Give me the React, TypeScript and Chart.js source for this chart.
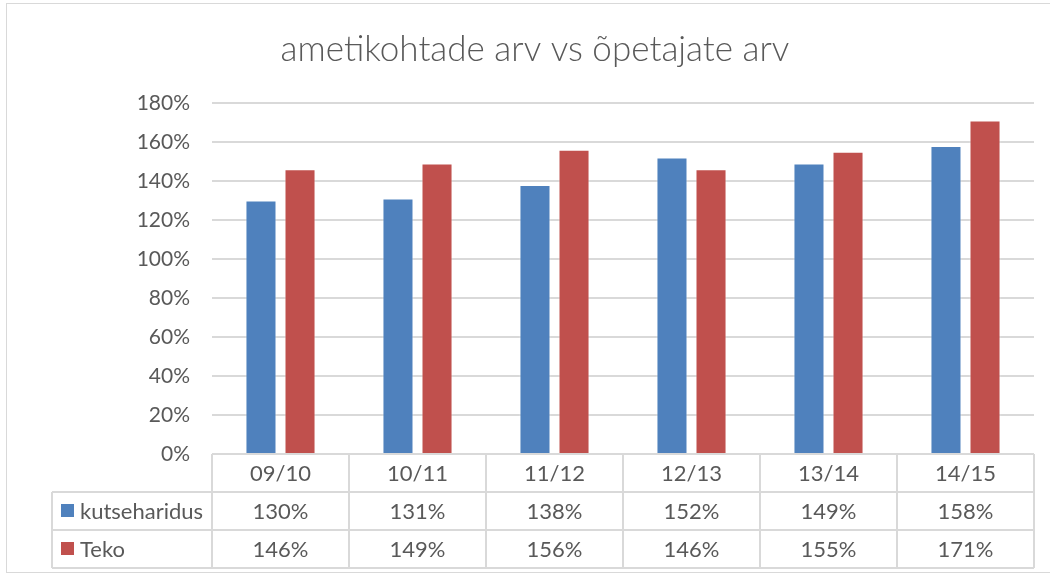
import React, { useEffect, useRef } from "react";
import { Chart, registerables } from "chart.js";

Chart.register(...registerables);

const categories = ["09/10", "10/11", "11/12", "12/13", "13/14", "14/15"];
const kutseharidus = [130, 131, 138, 152, 149, 158];
const teko = [146, 149, 156, 146, 155, 171];
const seriesNames = ["kutseharidus", "Teko"];
const seriesColors = ["#4f81bd", "#c0504d"];
const titleText = "ametikohtade arv vs õpetajate arv";

const FONT = "Lato, 'Open Sans', sans-serif";
const TEXT = "#595959";
const LINE = "#d9d9d9";

export default function App() {
  const ref = useRef<HTMLCanvasElement | null>(null);
  useEffect(() => {
    if (!ref.current) return;
    const tablePlugin = {
      id: "tablePlugin",
      afterDraw(chart: any) {
        const ctx = chart.ctx;
        const area = chart.chartArea;
        const x = chart.scales.x;
        const n = categories.length;
        const cw = (area.right - area.left) / n;
        const rowH = 38;
        const top = area.bottom;
        const legendLeft = 52;
        ctx.save();
        // outer border
        ctx.strokeStyle = LINE;
        ctx.lineWidth = 1;
        ctx.strokeRect(6.5, 3.5, 1100, 569);
        // title
        ctx.fillStyle = TEXT;
        ctx.font = `300 35px ${FONT}`;
        ctx.textAlign = "center";
        ctx.textBaseline = "middle";
        ctx.fillText(titleText, 535, 50);
        // table lines
        ctx.strokeStyle = LINE;
        ctx.lineWidth = 2;
        ctx.beginPath();
        ctx.moveTo(area.left, top);
        ctx.lineTo(area.right, top);
        for (let r = 1; r <= 3; r++) {
          ctx.moveTo(legendLeft, top + r * rowH);
          ctx.lineTo(area.right, top + r * rowH);
        }
        for (let i = 0; i <= n; i++) {
          const xx = area.left + i * cw;
          ctx.moveTo(xx, top);
          ctx.lineTo(xx, top + 3 * rowH);
        }
        ctx.moveTo(legendLeft, top + rowH);
        ctx.lineTo(legendLeft, top + 3 * rowH);
        ctx.stroke();
        // texts
        ctx.fillStyle = TEXT;
        ctx.font = `22px ${FONT}`;
        ctx.textAlign = "center";
        ctx.textBaseline = "middle";
        const rows = [kutseharidus, teko];
        for (let i = 0; i < n; i++) {
          const cx = x.getPixelForValue(i);
          ctx.fillText(categories[i], cx, top + rowH / 2 + 1);
          for (let r = 0; r < rows.length; r++) {
            ctx.fillText(rows[r][i] + "%", cx, top + (r + 1) * rowH + rowH / 2 + 1);
          }
        }
        ctx.textAlign = "left";
        for (let r = 0; r < seriesNames.length; r++) {
          const cy = top + (r + 1) * rowH + rowH / 2;
          ctx.fillStyle = seriesColors[r];
          ctx.fillRect(61, cy - 7, 13, 13);
          ctx.fillStyle = TEXT;
          ctx.fillText(seriesNames[r], 80, cy + 1);
        }
        ctx.restore();
      },
    };
    const chart = new Chart(ref.current, {
      type: "bar",
      data: {
        labels: categories,
        datasets: [
          {
            label: seriesNames[0],
            data: kutseharidus,
            backgroundColor: seriesColors[0],
            borderColor: "rgba(255,255,255,0.5)",
            borderWidth: 1,
          },
          {
            label: seriesNames[1],
            data: teko,
            backgroundColor: seriesColors[1],
            borderColor: "rgba(255,255,255,0.5)",
            borderWidth: 1,
          },
        ],
      },
      options: {
        animation: false,
        responsive: false,
        maintainAspectRatio: false,
        layout: { padding: { top: 103, bottom: 121, right: 16, left: 0 } },
        plugins: {
          legend: { display: false },
          title: { display: false },
          tooltip: { enabled: false },
        },
        datasets: {
          bar: { categoryPercentage: 0.57, barPercentage: 0.795 },
        },
        scales: {
          x: {
            display: false,
            grid: { display: false },
          },
          y: {
            min: 0,
            max: 180,
            afterFit(scale: any) {
              scale.width = 212;
            },
            ticks: {
              stepSize: 20,
              padding: 22,
              color: TEXT,
              font: { family: FONT, size: 21 },
              callback: (v: any) => v + "%",
            },
            border: { display: false },
            grid: { color: LINE, lineWidth: 2, drawTicks: false },
          },
        },
      },
      plugins: [tablePlugin],
    });
    return () => chart.destroy();
  }, []);
  return (
    <div style={{ position: "fixed", left: 0, top: 0, width: 1050, height: 575, background: "#fff" }}>
      <canvas ref={ref} width={1050} height={575} style={{ width: 1050, height: 575 }} />
    </div>
  );
}
